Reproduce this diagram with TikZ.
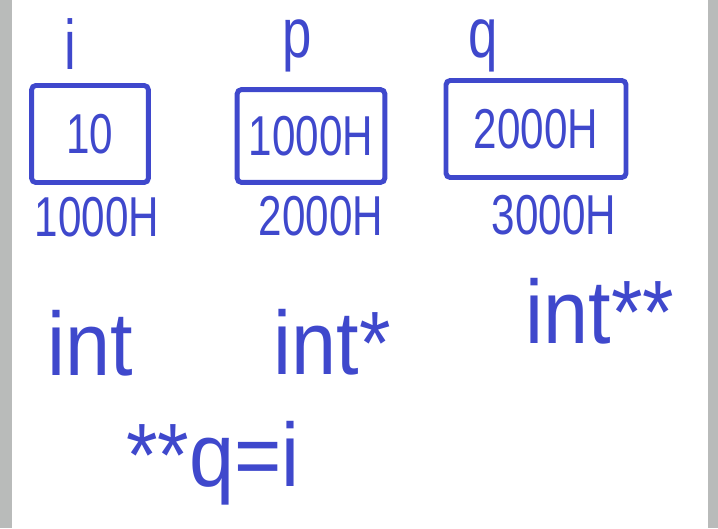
\documentclass[tikz,border=0pt]{standalone}
\usepackage{fontspec}
\setmainfont{Liberation Sans}
\usepackage{graphicx}
\definecolor{pen}{RGB}{63,72,204}
\definecolor{edge}{RGB}{185,187,186}
\newcommand{\hw}[1]{\scalebox{0.75}[1]{#1}}
\begin{document}
\begin{tikzpicture}[x=0.025cm,y=-0.025cm,
  mem/.style={draw=pen,line width=3.5pt,rounded corners=3pt,inner sep=0pt},
  addr/.style={text=pen,font=\fontsize{40}{40}\selectfont},
  var/.style={text=pen,font=\fontsize{50}{50}\selectfont},
  type/.style={text=pen,font=\fontsize{64}{64}\selectfont}]
\useasboundingbox (0,0) rectangle (718,528);
\fill[edge](0,0) rectangle (12,528);
\fill[edge](708,0) rectangle (718,528);
% variable names
\node(ni) at (70,44)[var]{\hw{i}};
\node(np) at (297,46)[var]{\hw{p}};
\node(nq) at (483,46)[var]{\hw{q}};
% memory cells
\node(ci) at (90,134)[mem,addr,minimum width=83pt,minimum height=69pt]{\hw{10}};
\node(cp) at (311,136)[mem,addr,minimum width=105pt,minimum height=66pt]{\hw{1000H}};
\node(cq) at (536,129)[mem,addr,minimum width=128pt,minimum height=69pt]{\hw{2000H}};
% addresses
\node(ai) at (97,217)[addr]{\hw{1000H}};
\node(ap) at (321,216)[addr]{\hw{2000H}};
\node(aq) at (554,215)[addr]{\hw{3000H}};
% types
\node(ti) at (90,343)[type]{\scalebox{0.9}[1]{int}};
\node(tp) at (332,342)[type]{\scalebox{0.9}[1]{int*}};
\node(tq) at (600,311)[type]{\scalebox{0.9}[1]{int**}};
\node(eq) at (213,463)[type]{\scalebox{0.9}[1]{**q=i}};
\end{tikzpicture}
\end{document}
